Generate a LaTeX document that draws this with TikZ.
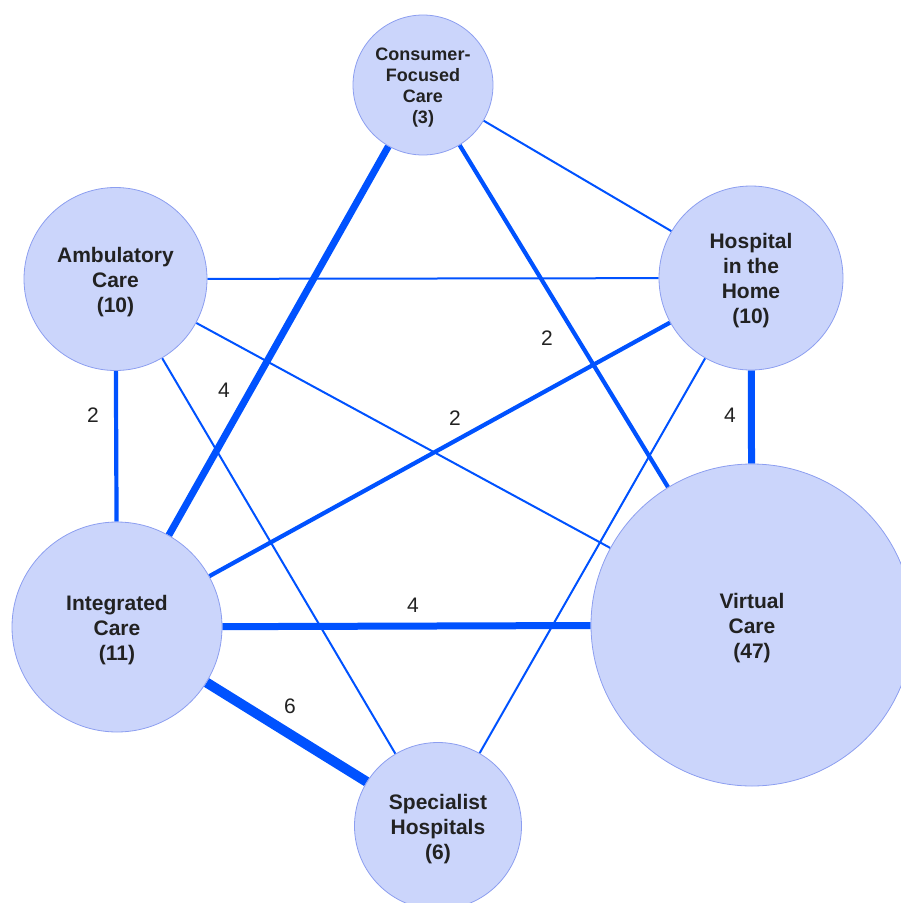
\documentclass[tikz,border=0pt]{standalone}
\usepackage{fontspec}
\setmainfont{Liberation Sans}
\usetikzlibrary{backgrounds}
\definecolor{nodefill}{RGB}{203,213,251}
\definecolor{nodeline}{RGB}{140,158,240}
\definecolor{edgeblue}{RGB}{0,82,255}
\definecolor{labelgray}{RGB}{34,34,34}
\tikzset{
  topic/.style={circle, fill=nodefill, draw=nodeline, line width=0.8pt, inner sep=0pt},
  topictext/.style={align=center, inner sep=0pt, yshift=-3pt,
    font=\bfseries\fontsize{21}{25}\selectfont, text=labelgray},
  smalltext/.style={topictext, font=\bfseries\fontsize{18}{21}\selectfont},
  link/.style={draw=edgeblue, line width=2pt},
  linktwo/.style={draw=edgeblue, line width=4.2pt},
  linkfour/.style={draw=edgeblue, line width=7pt},
  linksix/.style={draw=edgeblue, line width=10pt},
  weight/.style={font=\fontsize{21}{25}\selectfont, text=labelgray, inner sep=0pt}
}
\begin{document}
\begin{tikzpicture}[x=1pt,y=-1pt]
\useasboundingbox (0,0) rectangle (901,903);
\clip (0,0) rectangle (901,903);
\node[topic, minimum size=140pt, label={[smalltext]center:{Consumer-\\Focused\\Care\\(3)}}] (cons) at (423,85) {};
\node[topic, minimum size=183pt, label={[topictext]center:{Ambulatory\\Care\\(10)}}] (amb) at (115.5,279) {};
\node[topic, minimum size=184pt, label={[topictext]center:{Hospital\\in the\\Home\\(10)}}] (home) at (751,278) {};
\node[topic, minimum size=210pt, label={[topictext]center:{Integrated\\Care\\(11)}}] (int) at (117,627) {};
\node[topic, minimum size=322pt, label={[topictext]center:{Virtual\\Care\\(47)}}] (virt) at (752,625) {};
\node[topic, minimum size=167pt, label={[topictext]center:{Specialist\\Hospitals\\(6)}}] (spec) at (438,826) {};
\begin{pgfonlayer}{background}
\draw[link] (cons) -- (home);
\draw[linkfour] (cons) -- (int);
\draw[linktwo] (cons) -- (virt);
\draw[link] (amb) -- (home);
\draw[link] (amb) -- (virt);
\draw[linktwo] (amb) -- (int);
\draw[link] (amb) -- (spec);
\draw[linktwo] (home) -- (int);
\draw[linkfour] (home) -- (virt);
\draw[link] (home) -- (spec);
\draw[linkfour] (int) -- (virt);
\draw[linksix] (int) -- (spec);
\end{pgfonlayer}
\node[weight] (w1) at (93,415) {2};
\node[weight] (w2) at (224,390) {4};
\node[weight] (w3) at (547,338) {2};
\node[weight] (w4) at (455,418) {2};
\node[weight] (w5) at (730,415) {4};
\node[weight] (w6) at (413,605) {4};
\node[weight] (w7) at (290,706) {6};
\end{tikzpicture}
\end{document}
